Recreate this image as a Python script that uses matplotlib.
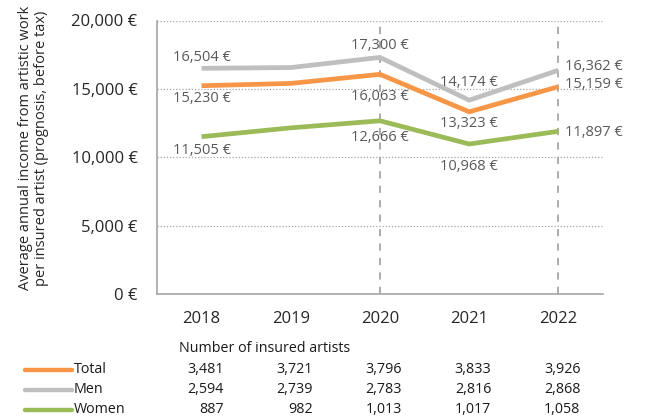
import matplotlib
matplotlib.use("Agg")
import matplotlib.pyplot as plt

plt.rcParams['font.family'] = ['Open Sans', 'DejaVu Sans']

years = ["2018", "2019", "2020", "2021", "2022"]
series_names = ["Total", "Men", "Women"]
total_income = [15230, 15400, 16063, 13323, 15159]
men_income = [16504, 16560, 17300, 14174, 16362]
women_income = [11505, 12150, 12666, 10968, 11897]
total_count = ["3,481", "3,721", "3,796", "3,833", "3,926"]
men_count = ["2,594", "2,739", "2,783", "2,816", "2,868"]
women_count = ["887", "982", "1,013", "1,017", "1,058"]
yticks = [0, 5000, 10000, 15000, 20000]
labeled_idx = [0, 2, 3, 4]
dashed_years = [2, 4]

colors = {"Total": "#F79646", "Men": "#BFBFBF", "Women": "#9BBB59"}
incomes = {"Total": total_income, "Men": men_income, "Women": women_income}
counts = {"Total": total_count, "Men": men_count, "Women": women_count}

# label offsets in pixels (dx, dy) per series for labeled points
offsets = {
    "Men":   [(0, 11), (0, 11.5), (0, 17.5), (7, 3.3)],
    "Total": [(0, -13), (0, -22), (0, -11.3), (7, 2.7)],
    "Women": [(0, -14), (0, -16.7), (0, -22.3), (7, -1)],
}

W, H = 645, 418
fig = plt.figure(figsize=(W / 100, H / 100), dpi=100)
ax = fig.add_axes([157 / W, 1 - 294 / H, 446 / W, (294 - 20.5) / H])

x = list(range(len(years)))
ax.set_xlim(-0.5, 4.5)
ax.set_ylim(0, 20000)

for yv in yticks[1:]:
    ax.axhline(yv, color="#A6A6A6", lw=0.9, ls=(0, (1, 1.5)), zorder=1)
for i in dashed_years:
    ax.axvline(i, color="#A6A6A6", lw=1.3, ls=(0, (4, 4)), zorder=1)

for name in ["Women", "Total", "Men"]:
    ax.plot(x, incomes[name], color=colors[name], lw=3.4,
            solid_capstyle="butt", solid_joinstyle="miter", zorder=3)

px = 0.72
for name in ["Men", "Total", "Women"]:
    for k, i in enumerate(labeled_idx):
        dx, dy = offsets[name][k]
        ha = "left" if dx else "center"
        ax.annotate(f"{incomes[name][i]:,} €", xy=(i, incomes[name][i]),
                    xytext=(dx * px, dy * px), textcoords="offset points",
                    ha=ha, va="center", fontsize=10.5, color="#595959", zorder=4)

ax.set_yticks(yticks)
ax.set_yticklabels([f"{v:,} €" for v in yticks])
ax.set_xticks(x)
ax.set_xticklabels(years)
ax.tick_params(axis="y", length=0, pad=14, labelsize=12, labelcolor="#262626")
ax.tick_params(axis="x", length=0, pad=12, labelsize=12, labelcolor="#262626")

for s in ["top", "right"]:
    ax.spines[s].set_visible(False)
for s in ["left", "bottom"]:
    ax.spines[s].set_color("#A6A6A6")
    ax.spines[s].set_linewidth(1.2)

fig.text(33.5 / W, 1 - 148 / H,
         "Average annual income from artistic work\nper insured artist (prognosis, before tax)",
         rotation=90, ha="center", va="center", fontsize=10.5, color="#262626",
         linespacing=1.15)

# Table
fig.text(179 / W, 1 - 349 / H, "Number of insured artists", ha="left", va="center",
         fontsize=10.3, color="#1a1a1a")
row_y = {"Total": 369.5, "Men": 389.5, "Women": 409.5}
for name in series_names:
    yf = 1 - row_y[name] / H
    fig.add_artist(plt.Line2D([25 / W, 72 / W], [yf, yf], color=colors[name], lw=3.2,
                              solid_capstyle="round"))
    fig.text(74 / W, yf, name, ha="left", va="center", fontsize=10.3, color="#1a1a1a")
    for i, c in enumerate(counts[name]):
        ax.annotate(c, xy=(i, yf), xycoords=("data", "figure fraction"),
                    xytext=(22 * px, 0), textcoords="offset points",
                    ha="right", va="center", fontsize=10.3, color="#1a1a1a",
                    annotation_clip=False)

fig.savefig("out.png", dpi=100)
